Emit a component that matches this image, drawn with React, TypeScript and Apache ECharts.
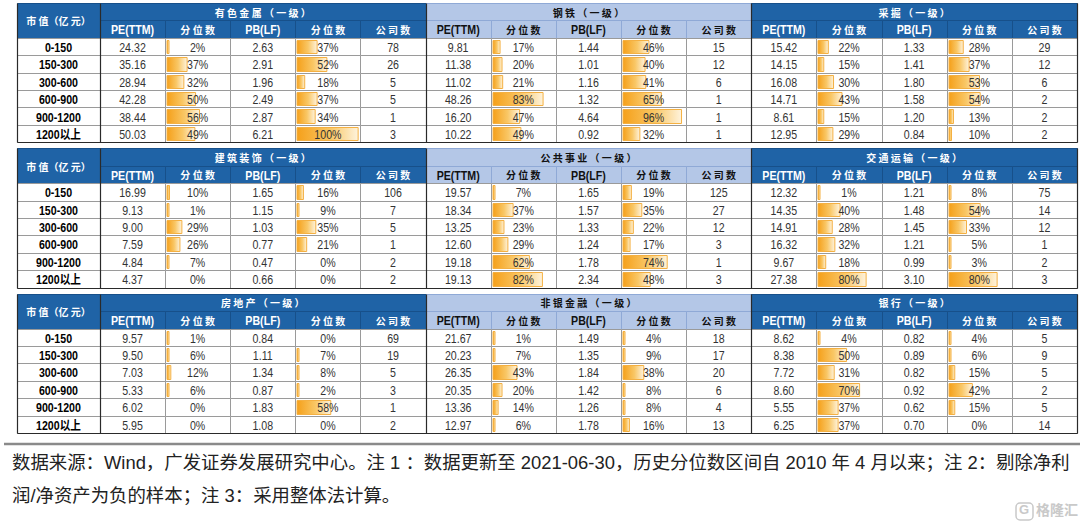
import React, { useEffect, useRef } from "react";
import * as echarts from "echarts";

// ---------- Data ----------
const ROW_LABELS = ["0-150", "150-300", "300-600", "600-900", "900-1200", "1200以上"];
const SUB_HEADERS = ["PE(TTM)", "分 位 数", "PB(LF)", "分 位 数", "公 司 数"];
const CORNER_LABEL = "市 值（亿 元）";

const INDUSTRY_NAMES = [
  ["有色金属", "钢铁", "采掘"],
  ["建筑装饰", "公共事业", "交通运输"],
  ["房地产", "非银金融", "银行"],
];

// 有色金属
const metalsPE = [24.32, 35.16, 28.94, 42.28, 38.44, 50.03];
const metalsPEPct = [2, 37, 32, 50, 56, 49];
const metalsPB = [2.63, 2.91, 1.96, 2.49, 2.87, 6.21];
const metalsPBPct = [37, 52, 18, 37, 34, 100];
const metalsCount = [78, 26, 5, 5, 1, 3];
// 钢铁
const steelPE = [9.81, 11.38, 11.02, 48.26, 16.2, 10.22];
const steelPEPct = [17, 20, 21, 83, 47, 49];
const steelPB = [1.44, 1.01, 1.16, 1.32, 4.64, 0.92];
const steelPBPct = [46, 40, 41, 65, 96, 32];
const steelCount = [15, 12, 6, 1, 1, 1];
// 采掘
const miningPE = [15.42, 14.15, 16.08, 14.71, 8.61, 12.95];
const miningPEPct = [22, 15, 30, 43, 15, 29];
const miningPB = [1.33, 1.41, 1.8, 1.58, 1.2, 0.84];
const miningPBPct = [28, 37, 53, 54, 13, 10];
const miningCount = [29, 12, 6, 2, 2, 2];
// 建筑装饰
const constrPE = [16.99, 9.13, 9.0, 7.59, 4.84, 4.37];
const constrPEPct = [10, 1, 29, 26, 7, 0];
const constrPB = [1.65, 1.15, 1.03, 0.77, 0.47, 0.66];
const constrPBPct = [16, 9, 35, 21, 0, 0];
const constrCount = [106, 7, 5, 1, 2, 2];
// 公共事业
const utilPE = [19.57, 18.34, 13.25, 12.6, 19.18, 19.13];
const utilPEPct = [7, 37, 23, 29, 62, 82];
const utilPB = [1.65, 1.57, 1.33, 1.24, 1.78, 2.34];
const utilPBPct = [19, 35, 22, 17, 74, 48];
const utilCount = [125, 27, 12, 3, 1, 3];
// 交通运输
const transPE = [12.32, 14.35, 14.91, 16.32, 9.67, 27.38];
const transPEPct = [1, 40, 28, 32, 18, 80];
const transPB = [1.21, 1.48, 1.45, 1.21, 0.99, 3.1];
const transPBPct = [8, 54, 33, 5, 3, 80];
const transCount = [75, 14, 12, 1, 2, 3];
// 房地产
const realPE = [9.57, 9.5, 7.03, 5.33, 6.02, 5.95];
const realPEPct = [1, 6, 12, 6, 0, 0];
const realPB = [0.84, 1.11, 1.34, 0.87, 1.83, 1.08];
const realPBPct = [0, 7, 8, 2, 58, 0];
const realCount = [69, 19, 5, 3, 1, 2];
// 非银金融
const nbfiPE = [21.67, 20.23, 26.35, 20.35, 13.36, 12.97];
const nbfiPEPct = [1, 7, 43, 20, 14, 6];
const nbfiPB = [1.49, 1.35, 1.84, 1.42, 1.26, 1.78];
const nbfiPBPct = [4, 9, 38, 8, 8, 16];
const nbfiCount = [18, 17, 20, 6, 4, 13];
// 银行
const bankPE = [8.62, 8.38, 7.72, 8.6, 5.55, 6.25];
const bankPEPct = [4, 50, 31, 70, 37, 37];
const bankPB = [0.82, 0.89, 0.82, 0.92, 0.62, 0.7];
const bankPBPct = [4, 6, 15, 42, 15, 0];
const bankCount = [5, 9, 5, 2, 5, 14];

const TABLES = [
  [
    [metalsPE, metalsPEPct, metalsPB, metalsPBPct, metalsCount],
    [steelPE, steelPEPct, steelPB, steelPBPct, steelCount],
    [miningPE, miningPEPct, miningPB, miningPBPct, miningCount],
  ],
  [
    [constrPE, constrPEPct, constrPB, constrPBPct, constrCount],
    [utilPE, utilPEPct, utilPB, utilPBPct, utilCount],
    [transPE, transPEPct, transPB, transPBPct, transCount],
  ],
  [
    [realPE, realPEPct, realPB, realPBPct, realCount],
    [nbfiPE, nbfiPEPct, nbfiPB, nbfiPBPct, nbfiCount],
    [bankPE, bankPEPct, bankPB, bankPBPct, bankCount],
  ],
];

const FOOT_LINE_1 =
  "数据来源：Wind，广发证券发展研究中心。注 1 ：数据更新至 2021-06-30，历史分位数区间自 2010 年 4 月以来；注 2：剔除净利";
const FOOT_LINE_2 = "润/净资产为负的样本；注 3：采用整体法计算。";

// ---------- Style ----------
const DARK_BLUE = "#1F63A6";
const LIGHT_BLUE = "#B4C7E7";
const LATIN = '"Liberation Sans", Arial, sans-serif';
const CJK = '"Noto Sans CJK SC", sans-serif';

// ---------- Layout (in axis units) ----------
const LW = 83 / 65.2; // label column width in data-column units
const X_MAX = LW + 15;
const BLOCK = 8.35;
const Y_MAX = 2 * BLOCK + 8;

type Cell = {
  x0: number; x1: number; y0: number; y1: number;
  fill: string; stroke: string; text: string; color: string; font: string;
  sx: number; pct?: number;
};

function colX(c: number): [number, number] {
  if (c === 0) return [0, LW];
  return [LW + c - 1, LW + c];
}

function fmt(v: number, j: number): string {
  if (j === 1 || j === 3) return v + "%";
  if (j === 4) return String(v);
  return v.toFixed(2);
}

function buildCells(): Cell[] {
  const cells: Cell[] = [];
  for (let b = 0; b < 3; b++) {
    const top = b * BLOCK;
    cells.push({
      x0: 0, x1: LW, y0: top, y1: top + 2, fill: DARK_BLUE, stroke: "#17508A",
      text: CORNER_LABEL, color: "#fff", font: `bold 10px ${CJK}`, sx: 1,
    });
    for (let g = 0; g < 3; g++) {
      const light = g === 1;
      const hFill = light ? LIGHT_BLUE : DARK_BLUE;
      const hStroke = light ? "#8FA9D6" : "#17508A";
      const hColor = light ? "#111" : "#fff";
      const gx0 = colX(1 + g * 5)[0];
      const gx1 = colX(5 + g * 5)[1];
      const title = (INDUSTRY_NAMES[b][g] + "（一级）").split("").join(" ");
      cells.push({
        x0: gx0, x1: gx1, y0: top, y1: top + 1, fill: hFill, stroke: hStroke,
        text: title, color: hColor, font: `bold 10px ${CJK}`, sx: 1,
      });
      for (let j = 0; j < 5; j++) {
        const [x0, x1] = colX(1 + g * 5 + j);
        const latin = j === 0 || j === 2;
        cells.push({
          x0, x1, y0: top + 1, y1: top + 2, fill: hFill, stroke: hStroke,
          text: SUB_HEADERS[j], color: hColor,
          font: latin ? `bold 12.5px ${LATIN}` : `bold 10px ${CJK}`, sx: latin ? 0.85 : 1,
        });
      }
    }
    for (let r = 0; r < 6; r++) {
      const y0 = top + 2 + r;
      cells.push({
        x0: 0, x1: LW, y0, y1: y0 + 1, fill: "#fff", stroke: "#9a9a9a",
        text: ROW_LABELS[r], color: "#000", font: `bold 12.5px ${LATIN}, ${CJK}`, sx: 0.85,
      });
      for (let g = 0; g < 3; g++) {
        const cols = TABLES[b][g];
        for (let j = 0; j < 5; j++) {
          const [x0, x1] = colX(1 + g * 5 + j);
          const v = cols[j][r];
          cells.push({
            x0, x1, y0, y1: y0 + 1, fill: "#fff", stroke: "#9a9a9a",
            text: fmt(v, j), color: "#333", font: `12.5px ${LATIN}`, sx: 0.85,
            pct: j === 1 || j === 3 ? v : undefined,
          });
        }
      }
    }
  }
  return cells;
}

function buildLines(): number[][] {
  const lines: number[][] = [];
  for (let b = 0; b < 3; b++) {
    const top = b * BLOCK;
    for (const x of [0, LW, LW + 5, LW + 10, X_MAX]) lines.push([x, x, top, top + 8]);
    lines.push([0, X_MAX, top + 8, top + 8]);
  }
  return lines;
}

export default function App() {
  const ref = useRef<HTMLDivElement>(null);
  useEffect(() => {
    if (!ref.current) return;
    const chart = echarts.init(ref.current, undefined, { renderer: "svg" });
    const cells = buildCells();
    const lines = buildLines();
    const barGrad = new echarts.graphic.LinearGradient(0, 0, 1, 0, [
      { offset: 0, color: "#F5A01A" },
      { offset: 0.55, color: "#F9C766" },
      { offset: 1, color: "#FEF3DD" },
    ]);
    const option: any = {
      animation: false,
      backgroundColor: "#fff",
      grid: { left: 17, top: 3, width: 1060, height: 430 },
      xAxis: { type: "value", min: 0, max: X_MAX, show: false },
      yAxis: { type: "value", min: 0, max: Y_MAX, inverse: true, show: false },
      series: [
        {
          type: "custom",
          silent: true,
          clip: false,
          data: cells.map((c, i) => [c.x0, c.x1, c.y0, c.y1, i]),
          encode: { x: [0, 1], y: [2, 3] },
          renderItem: (params: any, api: any) => {
            const c = cells[params.dataIndex];
            const p0 = api.coord([c.x0, c.y0]);
            const p1 = api.coord([c.x1, c.y1]);
            const x = Math.round(p0[0]) + 0.5;
            const y = Math.round(p0[1]) + 0.5;
            const w = Math.round(p1[0]) - Math.round(p0[0]);
            const h = Math.round(p1[1]) - Math.round(p0[1]);
            const children: any[] = [
              {
                type: "rect",
                shape: { x, y, width: w, height: h },
                style: { fill: c.fill, stroke: c.stroke, lineWidth: 1 },
              },
            ];
            if (c.pct && c.pct > 0) {
              const pe = api.coord([c.x0 + (c.pct / 100) * (c.x1 - c.x0), c.y0]);
              const bw = Math.max(2, (pe[0] - p0[0]) - 4);
              children.push({
                type: "rect",
                shape: { x: x + 1.5, y: y + 2, width: bw, height: h - 4 },
                style: { fill: barGrad, stroke: "#F4B042", lineWidth: 1 },
              });
            }
            children.push({
              type: "text",
              x: (p0[0] + p1[0]) / 2,
              y: (p0[1] + p1[1]) / 2 + 0.5,
              scaleX: c.sx,
              style: {
                text: c.text,
                x: 0,
                y: 0,
                fill: c.color,
                font: c.font,
                align: "center",
                verticalAlign: "middle",
              },
            });
            return { type: "group", children };
          },
          z: 2,
        },
        {
          type: "custom",
          silent: true,
          clip: false,
          data: lines,
          encode: { x: [0, 1], y: [2, 3] },
          renderItem: (params: any, api: any) => {
            const l = lines[params.dataIndex];
            const a = api.coord([l[0], l[2]]);
            const b = api.coord([l[1], l[3]]);
            return {
              type: "line",
              shape: {
                x1: Math.round(a[0]) + 0.5, y1: Math.round(a[1]) + 0.5,
                x2: Math.round(b[0]) + 0.5, y2: Math.round(b[1]) + 0.5,
              },
              style: { stroke: "#2a2a2a", lineWidth: 1.2 },
            };
          },
          z: 3,
        },
      ],
      graphic: [
        {
          type: "line",
          shape: { x1: 4, y1: 444, x2: 1080, y2: 444 },
          style: { stroke: "#8a8a8a", lineWidth: 2.5 },
        },
        {
          type: "text",
          left: 12,
          top: 453,
          style: { text: FOOT_LINE_1, font: `18.4px ${LATIN}, ${CJK}`, fill: "#222" },
        },
        {
          type: "text",
          left: 12,
          top: 486,
          style: { text: FOOT_LINE_2, font: `18.4px ${LATIN}, ${CJK}`, fill: "#222" },
        },
        {
          type: "rect",
          shape: { x: 1016, y: 503, width: 17, height: 17, r: 4 },
          style: { fill: "none", stroke: "#c9c9c9", lineWidth: 1.5 },
        },
        {
          type: "text",
          left: 1019,
          top: 503,
          style: { text: "G", font: `bold 13px ${LATIN}`, fill: "#c9c9c9" },
        },
        {
          type: "text",
          left: 1036,
          top: 502,
          style: { text: "格隆汇", font: `bold 14px ${CJK}`, fill: "#c9c9c9" },
        },
      ],
    };
    chart.setOption(option);
    return () => chart.dispose();
  }, []);
  return (
    <div
      ref={ref}
      style={{ position: "fixed", left: 0, top: 0, width: 1080, height: 525, background: "#fff" }}
    />
  );
}
